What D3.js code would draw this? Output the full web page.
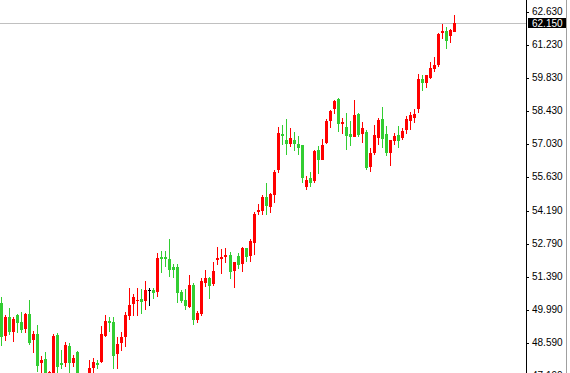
<!DOCTYPE html>
<html>
<head>
<meta charset="utf-8">
<script src="https://cdn.jsdelivr.net/npm/d3@7"></script>
<style>
  body { margin: 0; background: #fff; }
  svg { display: block; }
</style>
</head>
<body>
<script>
// candles, oldest first
var open = [50.26,48.87,49.66,49.03,49.76,49.47,49.17,49.80,48.70,48.96,
  47.73,47.88,46.79,46.96,48.91,47.74,47.74,48.45,47.71,48.19,
  46.90,46.50,47.00,47.50,47.73,47.77,48.88,49.51,49.47,48.11,
  48.59,48.82,49.72,50.23,50.36,50.44,50.37,50.81,50.82,50.75,
  52.24,52.24,52.14,51.80,51.81,50.74,50.40,50.10,51.05,49.55,
  49.80,51.13,51.33,51.06,52.10,52.14,52.24,52.31,51.64,52.27,
  51.94,52.60,52.28,52.83,54.14,54.19,54.76,54.36,54.84,55.91,
  57.44,57.19,57.00,57.19,57.02,56.96,55.21,55.57,55.46,56.76,
  56.34,57.07,58.01,58.49,58.93,57.87,57.73,57.44,57.33,58.29,
  57.44,57.53,56.04,56.64,57.28,58.08,57.44,56.65,57.16,57.40,
  57.28,57.61,58.01,58.13,58.49,59.77,59.59,59.80,60.21,60.37,
  61.73,61.81,61.60,61.77];
var high = [50.54,49.77,50.06,49.69,49.80,49.88,49.86,50.40,49.10,49.34,
  48.02,48.20,47.40,48.97,48.98,48.28,48.62,48.56,48.06,48.22,
  47.10,47.15,47.85,47.92,47.85,49.31,49.75,49.69,49.66,48.84,
  49.05,49.88,50.89,50.67,50.89,50.85,51.20,50.91,50.92,52.40,
  52.49,52.46,52.97,51.91,51.91,50.82,50.87,51.46,51.11,49.93,
  51.34,51.67,51.39,52.01,52.65,52.55,52.60,52.43,52.01,52.38,
  52.65,52.62,52.97,54.14,54.45,54.87,55.35,54.95,55.91,57.75,
  57.82,58.08,57.69,57.53,57.36,56.97,55.66,55.83,56.78,56.94,
  57.23,58.09,58.46,58.90,58.98,58.14,58.34,57.99,58.88,58.33,
  57.95,57.62,56.83,57.82,58.14,58.60,57.78,57.19,57.48,57.78,
  57.68,58.19,58.38,58.50,59.99,59.93,59.94,60.50,60.70,61.74,
  62.11,61.97,61.90,62.50];
var low = [48.46,48.67,48.91,48.63,49.01,49.01,49.01,48.49,48.16,47.33,
  47.17,46.83,46.58,46.83,47.32,47.45,47.57,47.30,47.54,46.66,
  46.40,46.30,46.83,47.30,47.46,47.71,48.84,49.03,47.48,47.48,
  48.25,48.42,49.53,49.72,49.72,49.79,49.97,50.14,50.43,50.51,
  51.53,51.79,51.36,51.34,50.26,50.28,49.97,50.05,49.34,49.41,
  49.73,50.96,50.44,51.01,51.88,51.50,51.96,51.30,50.92,51.70,
  51.60,52.00,52.02,52.32,54.00,54.02,54.02,54.11,54.53,55.80,
  56.97,56.55,56.89,56.73,56.53,55.38,55.07,55.21,55.38,55.74,
  56.32,57.02,57.71,58.29,57.53,57.44,56.76,56.93,57.30,57.33,
  57.07,55.91,55.83,56.55,56.97,56.86,56.51,56.08,56.97,56.85,
  57.19,57.44,57.61,57.90,58.32,59.28,59.41,59.76,60.07,60.27,
  61.48,61.06,61.31,61.75];
var close = [48.84,49.69,49.05,49.60,49.44,49.13,49.80,48.59,48.96,47.60,
  47.85,47.09,47.36,48.87,47.54,47.64,48.50,47.71,47.92,46.92,
  46.55,46.95,47.53,47.78,47.64,48.96,49.51,49.41,48.02,48.53,
  48.84,49.76,50.19,50.53,50.40,50.33,50.82,50.81,50.71,52.18,
  52.15,52.15,51.67,51.67,50.71,50.37,50.14,51.03,49.55,49.86,
  51.20,51.34,50.99,51.63,52.18,52.22,52.32,51.60,52.01,51.90,
  52.60,52.24,52.91,54.06,54.23,54.76,54.39,54.90,55.83,57.50,
  57.36,57.00,57.27,57.02,56.85,55.57,55.49,55.35,56.73,56.34,
  56.97,57.99,58.42,58.84,57.88,57.95,57.37,57.33,58.25,57.40,
  57.69,56.00,56.64,57.40,58.04,57.22,56.64,57.19,57.36,57.16,
  57.57,58.08,58.25,58.29,59.77,59.62,59.94,60.24,60.37,61.68,
  61.81,61.40,61.85,62.15];

var priceTicks = [62.63, 61.23, 59.83, 58.43, 57.03, 55.63, 54.19, 52.79, 51.39, 49.99, 48.59, 47.19];
var lastPrice = 62.15;

var width = 570, height = 373, axisX = 526;

var candles = open.map(function (o, i) {
  return {i: i, o: o, h: high[i], l: low[i], c: close[i]};
});

var x = d3.scaleBand()
  .domain(d3.range(candles.length))
  .range([0, candles.length * 4])
  .paddingInner(0.25)
  .paddingOuter(0)
  .align(0);

var y = d3.scaleLinear()
  .domain([47.19, 62.63])
  .range([375.6, 11.7]);

var svg = d3.select("body").append("svg")
  .attr("width", width)
  .attr("height", height)
  .style("font-family", "'Liberation Sans', Arial, sans-serif");

function col(d) {
  if (d.c > d.o) return "#ff0000";
  if (d.c < d.o) return "#32cd32";
  return "#000000";
}

// current price line
svg.append("line")
  .attr("x1", 0).attr("x2", axisX)
  .attr("y1", Math.round(y(lastPrice)) + 0.5)
  .attr("y2", Math.round(y(lastPrice)) + 0.5)
  .attr("stroke", "#c0c0c0")
  .attr("stroke-width", 1);

var g = svg.append("g").attr("shape-rendering", "crispEdges");

g.selectAll(".wick")
  .data(candles)
  .enter().append("rect")
  .attr("class", "wick")
  .attr("x", function (d) { return Math.round(x(d.i)) + 1; })
  .attr("width", 1)
  .attr("y", function (d) { return Math.round(y(d.h)); })
  .attr("height", function (d) { return Math.max(1, Math.round(y(d.l)) - Math.round(y(d.h))); })
  .attr("fill", col);

g.selectAll(".body")
  .data(candles)
  .enter().append("rect")
  .attr("class", "body")
  .attr("x", function (d) { return Math.round(x(d.i)); })
  .attr("width", x.bandwidth())
  .attr("y", function (d) { return Math.round(y(Math.max(d.o, d.c))); })
  .attr("height", function (d) {
    return Math.max(1, Math.round(y(Math.min(d.o, d.c))) - Math.round(y(Math.max(d.o, d.c))));
  })
  .attr("fill", col);

// price axis on the right
var axis = svg.append("g")
  .attr("transform", "translate(" + axisX + ",0)")
  .call(d3.axisRight(y)
    .tickValues(priceTicks)
    .tickFormat(function (d) { return d.toFixed(3); })
    .tickSize(3)
    .tickPadding(3)
    .tickSizeOuter(0));

axis.select(".domain").remove();
axis.selectAll("line").attr("stroke", "#000").attr("shape-rendering", "crispEdges");
axis.selectAll("text")
  .attr("fill", "#000")
  .style("font-size", "10px")
  .style("font-family", "'Liberation Sans', Arial, sans-serif");

svg.append("line")
  .attr("x1", axisX + 0.5).attr("x2", axisX + 0.5)
  .attr("y1", 0).attr("y2", height)
  .attr("stroke", "#000");

svg.append("line")
  .attr("x1", 566.5).attr("x2", 566.5)
  .attr("y1", 0).attr("y2", height)
  .attr("stroke", "#a0a0a0");

// last price tag
var ly = y(lastPrice);
svg.append("rect")
  .attr("x", axisX + 2)
  .attr("y", Math.round(ly) - 5)
  .attr("width", 38)
  .attr("height", 10)
  .attr("fill", "#000");

svg.append("text")
  .attr("x", axisX + 6)
  .attr("y", ly)
  .attr("dy", "0.35em")
  .attr("fill", "#fff")
  .style("font-size", "10px")
  .text(lastPrice.toFixed(3));
</script>
</body>
</html>
